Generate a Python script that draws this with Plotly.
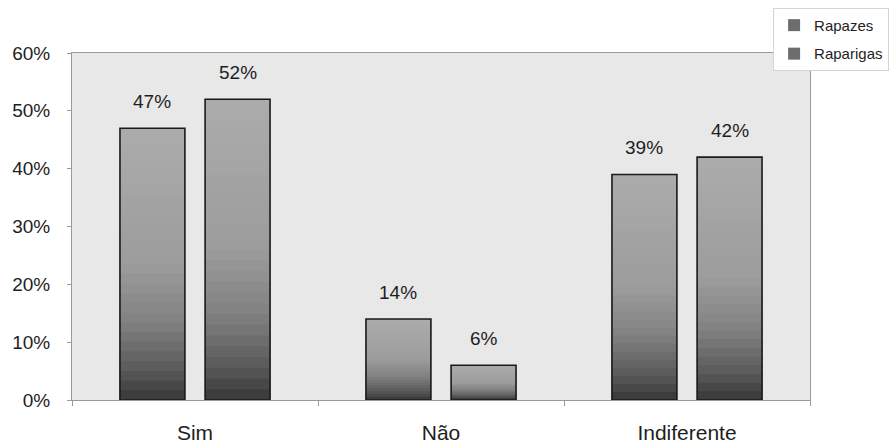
import plotly.graph_objects as go

# Survey answers by group (share of respondents)
categories = ["Sim", "Não", "Indiferente"]
rapazes = [0.47, 0.14, 0.39]
raparigas = [0.52, 0.06, 0.42]
series_names = ["Rapazes", "Raparigas"]
y_ticks = [0, 0.1, 0.2, 0.3, 0.4, 0.5, 0.6]
y_tick_labels = ["0%", "10%", "20%", "30%", "40%", "50%", "60%"]

FONT = "Liberation Sans, Arial, sans-serif"
TEXT = "#1e1e1e"

# grey level along a bar, from its top (0) to its base (1)
shade_stops = [(0.0, 172), (0.5, 156), (0.72, 128), (0.88, 92), (1.0, 56)]


def shade(f):
    for (f0, g0), (f1, g1) in zip(shade_stops, shade_stops[1:]):
        if f <= f1:
            g = g0 + (g1 - g0) * (f - f0) / (f1 - f0)
            break
    g = int(round(g))
    return f"rgb({g},{g},{g})"


N_LAYERS = 28
BAR_W = 0.264
offsets = [-0.305, 0.041]

fig = go.Figure()
for s, (name, vals) in enumerate(zip(series_names, [rapazes, raparigas])):
    # stacked-down layers give each bar a vertical light-to-dark fill
    for k in range(N_LAYERS):
        frac = 1 - k / N_LAYERS
        fig.add_trace(go.Bar(
            x=categories,
            y=[v * frac for v in vals],
            width=BAR_W,
            offset=offsets[s],
            marker=dict(color=shade((k + 0.5) / N_LAYERS), line=dict(width=0)),
            name=name,
            legendgroup=name,
            showlegend=(k == N_LAYERS - 6),
            hoverinfo="skip",
        ))
    # outline of the full bar
    fig.add_trace(go.Bar(
        x=categories,
        y=vals,
        width=BAR_W,
        offset=offsets[s],
        marker=dict(color="rgba(0,0,0,0)", line=dict(color="#1a1a1a", width=1.6)),
        name=name,
        legendgroup=name,
        showlegend=False,
    ))
    # value labels above each bar
    for i, v in enumerate(vals):
        fig.add_annotation(
            x=i + offsets[s] + BAR_W / 2,
            y=v,
            text=f"{round(v * 100)}%",
            showarrow=False,
            yanchor="bottom",
            yshift=14,
            font=dict(family=FONT, size=19, color=TEXT),
        )

fig.update_layout(
    width=891,
    height=447,
    barmode="overlay",
    paper_bgcolor="white",
    plot_bgcolor="#e8e8e8",
    margin=dict(l=72, r=81, t=53, b=47, autoexpand=False),
    font=dict(family=FONT, color=TEXT),
    legend=dict(
        x=0.95, y=1.13, xanchor="left", yanchor="top",
        font=dict(family=FONT, size=15, color=TEXT),
        bgcolor="white", bordercolor="#d4d4d4", borderwidth=1,
        tracegroupgap=6,
    ),
    showlegend=True,
)
fig.update_xaxes(
    showgrid=False,
    showline=True, linecolor="#9a9a9a", linewidth=1, mirror=True,
    tickson="boundaries", ticks="outside", ticklen=5, tickcolor="#9a9a9a",
    tickfont=dict(family=FONT, size=21, color=TEXT),
    ticklabelstandoff=14,
)
fig.update_yaxes(
    range=[0, 0.6],
    tickvals=y_ticks, ticktext=y_tick_labels,
    showgrid=False, zeroline=False,
    showline=True, linecolor="#9a9a9a", linewidth=1, mirror=True,
    ticks="outside", ticklen=4, tickcolor="#9a9a9a",
    tickfont=dict(family=FONT, size=19, color=TEXT),
    ticklabelstandoff=13,
)

fig.write_html("out.html")
